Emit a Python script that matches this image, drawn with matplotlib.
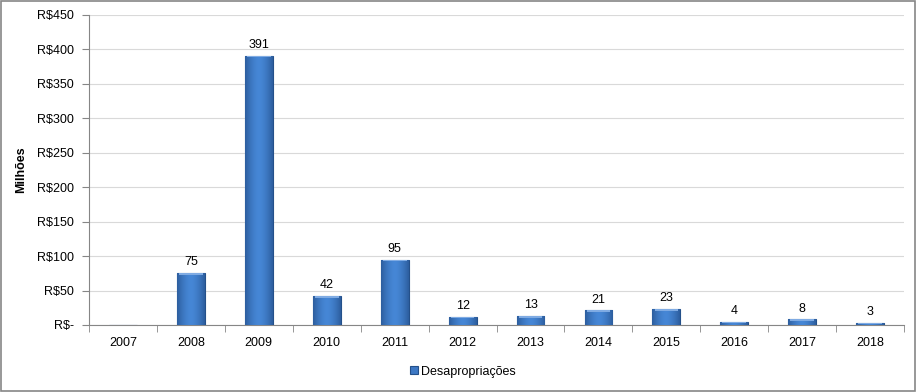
import numpy as np
import matplotlib.pyplot as plt
from matplotlib.patches import Rectangle

# dados
anos = ['2007', '2008', '2009', '2010', '2011', '2012', '2013', '2014',
        '2015', '2016', '2017', '2018']
valores = [0, 75, 391, 42, 95, 12, 13, 21, 23, 4, 8, 3]
yticks = [0, 50, 100, 150, 200, 250, 300, 350, 400, 450]
ytick_labels = ['R$-', 'R$50', 'R$100', 'R$150', 'R$200', 'R$250',
                'R$300', 'R$350', 'R$400', 'R$450']

plt.rcParams['font.family'] = ['Liberation Sans', 'DejaVu Sans']

fig = plt.figure(figsize=(9.17, 3.92), dpi=100)
ax = fig.add_axes([0.097, 0.171, 0.889, 0.791])

x = np.arange(len(anos))
barras = ax.bar(x, valores, width=0.41, color='#3d78c4', edgecolor='#24508a',
                linewidth=0.8, label='Desapropriações', zorder=3)

# gradiente horizontal (efeito cilindro) e faixa clara no topo
grad = np.abs(np.linspace(-1, 1, 64)) ** 1.6
grad = grad.reshape(1, -1)
cmap = plt.matplotlib.colors.LinearSegmentedColormap.from_list(
    'bisel', ['#4687d6', '#2d5e9f'])
for b in barras:
    h = b.get_height()
    if h <= 0:
        continue
    x0, w = b.get_x(), b.get_width()
    im = ax.imshow(grad, extent=(x0, x0 + w, 0, h), aspect='auto', cmap=cmap,
                   zorder=3.5, interpolation='bilinear')
    im.set_clip_path(b)
    faixa = min(2.2, h * 0.4)
    ax.add_patch(Rectangle((x0 + 0.03, h - faixa), w - 0.06, faixa,
                           facecolor='#7fabe3', edgecolor='none', zorder=4))

# rótulos de dados
for xi, v in zip(x, valores):
    if v > 0:
        ax.text(xi, v + 7, str(v), ha='center', va='bottom', fontsize=9, color='black')

ax.set_xlim(-0.5, len(anos) - 0.5)
ax.set_ylim(0, 450)
ax.set_aspect('auto')
ax.set_yticks(yticks)
ax.set_yticklabels(ytick_labels, fontsize=9)
ax.set_xticks(x)
ax.set_xticklabels(anos, fontsize=9)
ax.set_xticks(np.arange(-0.5, len(anos)), minor=True)
ax.tick_params(axis='x', which='major', length=0, pad=9)
ax.tick_params(axis='x', which='minor', length=5, color='#868686')
ax.tick_params(axis='y', length=5, color='#868686', pad=6)

ax.grid(axis='y', color='#d9d9d9', linewidth=0.8, zorder=0)
for lado in ['top', 'right']:
    ax.spines[lado].set_visible(False)
ax.spines['left'].set_color('#868686')
ax.spines['bottom'].set_color('#868686')

ax.set_ylabel('Milhões', fontsize=9, fontweight='bold', labelpad=7)

fig.legend(handles=[barras], labels=['Desapropriações'], loc='center',
           bbox_to_anchor=(0.505, 0.052), frameon=False, fontsize=9,
           handlelength=0.6, handleheight=0.6, handletextpad=0.3)

fig.add_artist(Rectangle((0.001, 0.002), 0.997, 0.995, transform=fig.transFigure,
                         fill=False, edgecolor='#868686', linewidth=1.2))

fig.savefig('out.png', dpi=100)
